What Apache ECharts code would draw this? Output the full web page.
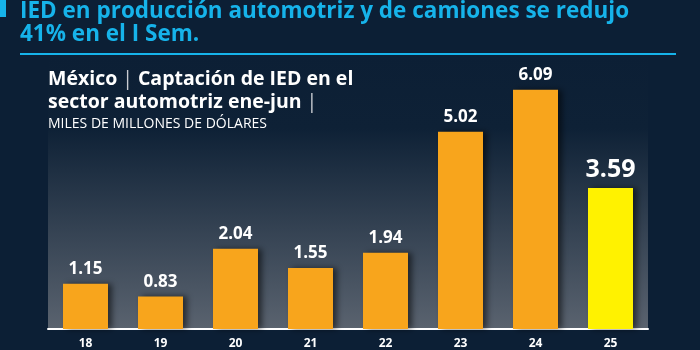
<!DOCTYPE html>
<html lang="es">
<head>
<meta charset="utf-8">
<title>IED automotriz</title>
<script src="https://cdn.jsdelivr.net/npm/echarts@6/dist/echarts.min.js"></script>
<style>
  html, body { margin: 0; padding: 0; background: #0c1f35; }
  #chart { width: 700px; height: 350px; }
</style>
</head>
<body>
<div id="chart"></div>
<script>
// datos
var years = ['18', '19', '20', '21', '22', '23', '24', '25'];
var ied = [1.15, 0.83, 2.04, 1.55, 1.94, 5.02, 6.09, 3.59];

var chart = echarts.init(document.getElementById('chart'));
var font = '"Open Sans", "Noto Sans", sans-serif';

var barData = ied.map(function (v, i) {
    var last = i === ied.length - 1;
    return {
        value: v,
        itemStyle: { color: last ? '#fff200' : '#f8a51c' },
        label: last ? { fontSize: 25, fontWeight: 'bold' } : {}
    };
});

chart.setOption({
    backgroundColor: '#0c1f35',
    animation: false,
    title: [{
        text: 'IED en producción automotriz y de camiones se redujo\n41% en el I Sem.',
        left: 20, top: 0, padding: 0,
        textStyle: { color: '#16b3ea', fontSize: 22.5, fontWeight: 'bold', fontFamily: font, lineHeight: 23 }
    }, {
        text: '{b|México} {s||} {b|Captación de IED en el}\n{b|sector automotriz ene-jun} {s||}\n{n|MILES DE MILLONES DE DÓLARES}',
        left: 48, top: 68, padding: 0,
        textStyle: {
            rich: {
                b: { color: '#ffffff', fontSize: 19.5, fontWeight: 'bold', fontFamily: font, lineHeight: 23 },
                s: { color: '#c9ccd2', fontSize: 19.5, fontWeight: 'normal', fontFamily: font, lineHeight: 23 },
                n: { color: '#ffffff', fontSize: 14, fontWeight: 'normal', fontFamily: font, lineHeight: 20 }
            }
        }
    }],
    graphic: [
        { type: 'rect', shape: { x: 0, y: 0, width: 6, height: 17 }, style: { fill: '#16b3ea' } },
        { type: 'rect', shape: { x: 20, y: 53, width: 656, height: 2 }, style: { fill: '#16b3ea' } }
    ],
    grid: {
        left: 48, right: 52, top: 54, bottom: 17,
        show: true, borderWidth: 0,
        backgroundColor: new echarts.graphic.LinearGradient(0, 0, 0, 1, [
            { offset: 0, color: '#0c1f35' },
            { offset: 0.27, color: '#0e2136' },
            { offset: 1, color: '#5a636f' }
        ])
    },
    xAxis: {
        type: 'category',
        data: years,
        axisLine: { lineStyle: { color: '#ffffff', width: 2 } },
        axisTick: { show: false },
        axisLabel: { color: '#ffffff', fontSize: 12, fontWeight: 'bold', fontFamily: font, margin: 9 }
    },
    yAxis: {
        type: 'value',
        min: 0, max: 7,
        show: false,
        splitLine: { show: false }
    },
    series: [{
        type: 'bar',
        data: barData,
        barWidth: '60%',
        itemStyle: {
            shadowColor: 'rgba(0,0,0,0.55)',
            shadowBlur: 6,
            shadowOffsetX: 4,
            shadowOffsetY: 0
        },
        label: {
            show: true,
            position: 'top',
            distance: 6,
            color: '#ffffff',
            fontSize: 17,
            fontWeight: 'bold',
            fontFamily: font,
            formatter: function (p) { return p.value.toFixed(2); }
        }
    }]
});
</script>
</body>
</html>
